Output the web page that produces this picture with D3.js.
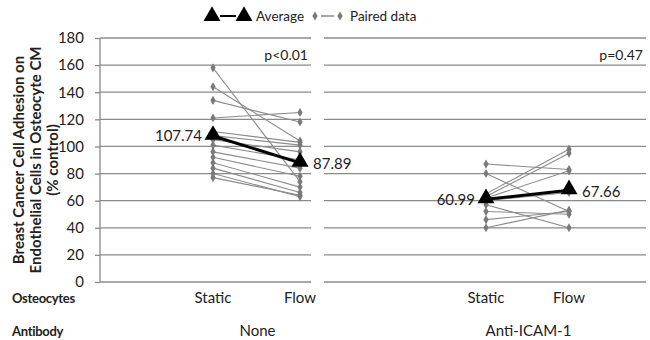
<!doctype html>
<html lang="en">
<head>
  <meta charset="utf-8">
  <title>Paired adhesion chart - D3</title>
  <style>
    body { margin: 0; background: #fff; }
    svg text { font-family: Lato, "Open Sans", sans-serif; fill: #222; }
  </style>
</head>
<body>
  <svg></svg>
  <script src="https://cdn.jsdelivr.net/npm/d3@7"></script>
  <script>
    const width = 650;
    const height = 340;

    // data
    const conditions = ['Static', 'Flow'];
    const yTicks = [0, 20, 40, 60, 80, 100, 120, 140, 160, 180];
    const noneStatic = [158, 144, 134, 121, 111, 108, 105, 101, 96, 92, 88, 84, 80, 77];
    const noneFlow = [74, 104, 118, 125, 103, 101, 96, 90, 84, 78, 70, 66, 63, 64];
    const icamStatic = [87, 80, 65, 63, 62, 60, 57, 52, 46, 40];
    const icamFlow = [83, 52, 98, 95, 82, 66, 40, 50, 52, 53];
    const avgNone = [107.74, 87.89];
    const avgIcam = [60.99, 67.66];
    const pValues = ['p<0.01', 'p=0.47'];
    const antibodies = ['None', 'Anti-ICAM-1'];

    const svg = d3.select('svg')
      .attr('width', width)
      .attr('height', height)
      .attr('viewBox', [0, 0, width, height]);

    const y = d3.scaleLinear().domain([0, 180]).range([282, 38]);

    // two panels, each with its own x position scale
    const panels = [
      { x0: 100, x1: 311, x: d3.scalePoint().domain(conditions).range([213, 300]),
        stat: noneStatic, flow: noneFlow, avg: avgNone, p: pValues[0], ab: antibodies[0] },
      { x0: 324, x1: 646, x: d3.scalePoint().domain(conditions).range([486, 569]),
        stat: icamStatic, flow: icamFlow, avg: avgIcam, p: pValues[1], ab: antibodies[1] }
    ];

    // gridlines
    panels.forEach(p => {
      svg.append('g')
        .selectAll('line')
        .data(yTicks)
        .enter()
        .append('line')
        .attr('x1', p.x0)
        .attr('x2', p.x1)
        .attr('y1', d => y(d))
        .attr('y2', d => y(d))
        .attr('stroke', '#8a8a8a')
        .attr('stroke-width', 1.3);
    });

    // y axis
    const axis = d3.axisLeft(y).tickValues(yTicks).tickSize(5).tickPadding(11);
    svg.append('g')
      .attr('transform', 'translate(100,0)')
      .call(axis)
      .call(g => g.selectAll('path, line').attr('stroke', '#8a8a8a').attr('stroke-width', 1.3))
      .call(g => g.select('.domain').attr('d', `M0,${y(180)}V${y(0)}`))
      .call(g => g.selectAll('text')
        .attr('font-size', 15)
        .attr('font-family', 'Lato, sans-serif')
        .attr('fill', '#222'));

    // y title
    const titleLines = ['Breast Cancer Cell Adhesion on', 'Endothelial Cells in Osteocyte CM', '(% control)'];
    svg.append('text')
      .attr('transform', 'translate(0,160) rotate(-90)')
      .attr('text-anchor', 'middle')
      .attr('font-size', 15)
      .attr('font-weight', 'bold')
      .selectAll('tspan')
      .data(titleLines)
      .enter()
      .append('tspan')
      .attr('x', 0)
      .attr('y', (d, i) => 24 + i * 17)
      .text(d => d);

    const diamond = d3.symbol().type(d3.symbolDiamond).size(24);
    const triangle = d3.symbol().type(d3.symbolTriangle).size(125);

    panels.forEach(p => {
      const sx = p.x(conditions[0]);
      const fx = p.x(conditions[1]);
      const pairs = p.stat.map((v, i) => [v, p.flow[i]]);

      const g = svg.append('g');

      g.selectAll('line.pair')
        .data(pairs)
        .enter()
        .append('line')
        .attr('class', 'pair')
        .attr('x1', sx)
        .attr('x2', fx)
        .attr('y1', d => y(d[0]))
        .attr('y2', d => y(d[1]))
        .attr('stroke', '#8c8c8c')
        .attr('stroke-width', 1.1);

      g.selectAll('path.ds')
        .data(p.stat)
        .enter()
        .append('path')
        .attr('d', diamond)
        .attr('transform', d => `translate(${sx},${y(d)})`)
        .attr('fill', '#7a7a7a');

      g.selectAll('path.df')
        .data(p.flow)
        .enter()
        .append('path')
        .attr('d', diamond)
        .attr('transform', d => `translate(${fx},${y(d)})`)
        .attr('fill', '#7a7a7a');

      // average
      g.append('line')
        .attr('x1', sx)
        .attr('x2', fx)
        .attr('y1', y(p.avg[0]))
        .attr('y2', y(p.avg[1]))
        .attr('stroke', '#000')
        .attr('stroke-width', 3);

      g.selectAll('path.tri')
        .data(p.avg)
        .enter()
        .append('path')
        .attr('d', triangle)
        .attr('transform', (d, i) => `translate(${i ? fx : sx},${y(d) - 1})`)
        .attr('fill', '#000');

      g.append('text')
        .attr('x', sx - 11)
        .attr('y', y(p.avg[0]))
        .attr('dy', '0.35em')
        .attr('text-anchor', 'end')
        .attr('font-size', 15)
        .text(p.avg[0]);

      g.append('text')
        .attr('x', fx + 13)
        .attr('y', y(p.avg[1]) + 1)
        .attr('dy', '0.35em')
        .attr('font-size', 15)
        .text(p.avg[1]);

      g.append('text')
        .attr('x', p.x1 - 3)
        .attr('y', 60)
        .attr('text-anchor', 'end')
        .attr('font-size', 14)
        .text(p.p);

      // category labels
      g.selectAll('text.cat')
        .data(conditions)
        .enter()
        .append('text')
        .attr('x', d => p.x(d))
        .attr('y', 303)
        .attr('text-anchor', 'middle')
        .attr('font-size', 15)
        .text(d => d);

      g.append('text')
        .attr('x', (sx + fx) / 2 + 1)
        .attr('y', 336)
        .attr('text-anchor', 'middle')
        .attr('font-size', 15)
        .text(p.ab);
    });

    svg.append('text')
      .attr('x', 12)
      .attr('y', 303)
      .attr('font-size', 13)
      .attr('letter-spacing', -0.3)
      .attr('font-weight', 'bold')
      .text('Osteocytes');

    svg.append('text')
      .attr('x', 12)
      .attr('y', 336)
      .attr('font-size', 13)
      .attr('letter-spacing', -0.3)
      .attr('font-weight', 'bold')
      .text('Antibody');

    // legend
    const legend = svg.append('g').attr('transform', 'translate(0,16)');
    legend.append('line').attr('x1', 220).attr('x2', 236).attr('stroke', '#000').attr('stroke-width', 2);
    legend.selectAll('path.lt')
      .data([212, 244])
      .enter()
      .append('path')
      .attr('d', triangle)
      .attr('transform', d => `translate(${d},0)`)
      .attr('fill', '#000');
    legend.append('text').attr('x', 256).attr('y', 0).attr('dy', '0.35em').attr('font-size', 13.5).text('Average');
    legend.append('line').attr('x1', 321).attr('x2', 334).attr('stroke', '#8c8c8c').attr('stroke-width', 1.5);
    legend.selectAll('path.ld')
      .data([315, 340])
      .enter()
      .append('path')
      .attr('d', diamond)
      .attr('transform', d => `translate(${d},0)`)
      .attr('fill', '#7a7a7a');
    legend.append('text').attr('x', 350).attr('y', 0).attr('dy', '0.35em').attr('font-size', 13.5).text('Paired data');
  </script>
</body>
</html>
